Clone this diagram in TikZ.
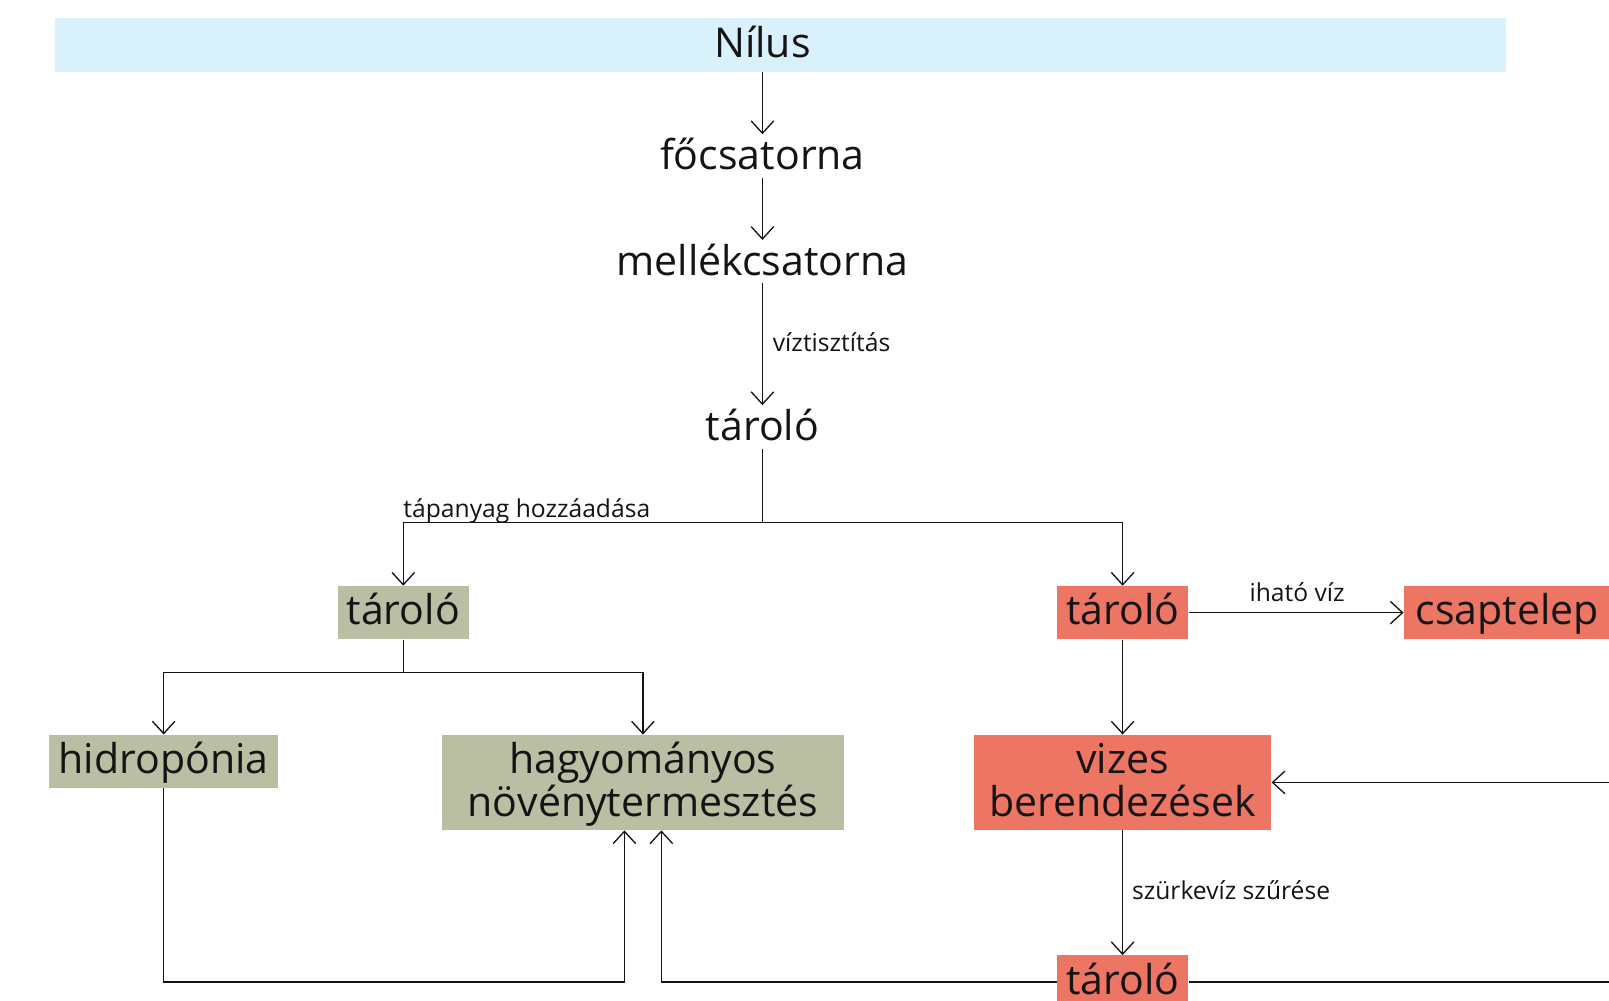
\documentclass[tikz,border=0pt]{standalone}
\usepackage{fontspec}
\setmainfont{Open Sans}
\usetikzlibrary{arrows.meta}
\definecolor{nblue}{HTML}{D9F1FA}
\definecolor{ngreen}{HTML}{BABEA2}
\definecolor{nred}{HTML}{EC7564}
\definecolor{ink}{HTML}{141414}
\newcommand{\topstrut}{\rule{0pt}{35pt}}
\newcommand{\botstrut}{\rule[-10pt]{0pt}{10pt}}
\begin{document}
\begin{tikzpicture}[x=1pt,y=-1pt,
  big/.style={font=\fontsize{40}{42}\selectfont, text=ink, inner sep=0pt, text height=30pt, text depth=6pt},
  plain/.style={font=\fontsize{40}{42}\selectfont, text=ink, inner sep=0pt, text height=34pt, text depth=8pt},
  gbox/.style={big, fill=ngreen, minimum height=52pt},
  rbox/.style={big, fill=nred, minimum height=52pt},
  twoline/.style={font=\fontsize{40}{42}\selectfont, text=ink, inner sep=0pt, align=center, minimum height=93pt},
  lbl/.style={font=\fontsize{24}{28}\selectfont, text=ink, inner sep=0pt},
  conn/.style={line width=1.3pt, draw=ink},
  arr/.style={conn, -{Straight Barb[length=12pt,width=22pt]}}
]
\useasboundingbox (0,0) rectangle (1568,975);
\clip (0,0) rectangle (1568,975);

\fill[nblue] (54,18) rectangle (1468,70);
\node[big, minimum height=52pt] (nilus) at (743,44) {Nílus};
\node[plain] (foc) at (743,152) {főcsatorna};
\node[plain] (mell) at (743,255) {mellékcsatorna};
\node[plain] (tar) at (743,416) {tároló};
\node[gbox, minimum width=128pt] (t1) at (393,597) {tároló};
\node[rbox, minimum width=128pt] (t2) at (1094,597) {tároló};
\node[rbox, minimum width=202pt] (csap) at (1469,597) {csaptelep};
\node[gbox, minimum width=223pt] (hidro) at (159.5,742) {hidropónia};
\node[twoline, fill=ngreen, minimum width=391pt] (hag) at (626.5,762.5) {\topstrut hagyományos\\növénytermesztés\botstrut};
\node[twoline, fill=nred, minimum width=290pt] (viz) at (1094,762.5) {\topstrut vizes\\berendezések\botstrut};
\node[rbox, minimum width=128pt] (t3) at (1094,957) {tároló};

\node[lbl, anchor=base west] (lviz) at (753,343) {víztisztítás};
\node[lbl, anchor=base west] (ltap) at (393,504) {tápanyag hozzáadása};
\node[lbl, anchor=base] (lih) at (1264,586) {iható víz};
\node[lbl, anchor=base west] (lsz) at (1103,877) {szürkevíz szűrése};

\draw[arr] (nilus) -- (foc);
\draw[arr] (foc) -- (mell);
\draw[arr] (mell) -- (tar);
\draw[conn] (tar.south) -- ++(0,72) coordinate (j1);
\draw[arr] (j1) -| (t1.north);
\draw[arr] (j1) -| (t2.north);
\draw[conn] (t1.south) -- ++(0,32) coordinate (j2);
\draw[arr] (j2) -| (hidro.north);
\draw[arr] (j2) -| (hag.north);
\draw[arr] (t2) -- (csap);
\draw[arr] (t2) -- (viz);
\coordinate (rin) at (1600,762.5);
\draw[arr] (rin) -- (viz.east);
\draw[arr] (viz) -- (t3);
\coordinate (hL) at ([xshift=-18pt]hag.south);
\coordinate (hR) at ([xshift=18pt]hag.south);
\draw[arr] (hidro.south) |- (hL |- t3.west) -- (hL);
\draw[arr] (t3.west) -| (hR);
\coordinate (rout) at (1600,957);
\draw[conn] (t3.east) -- (rout);
\end{tikzpicture}
\end{document}
